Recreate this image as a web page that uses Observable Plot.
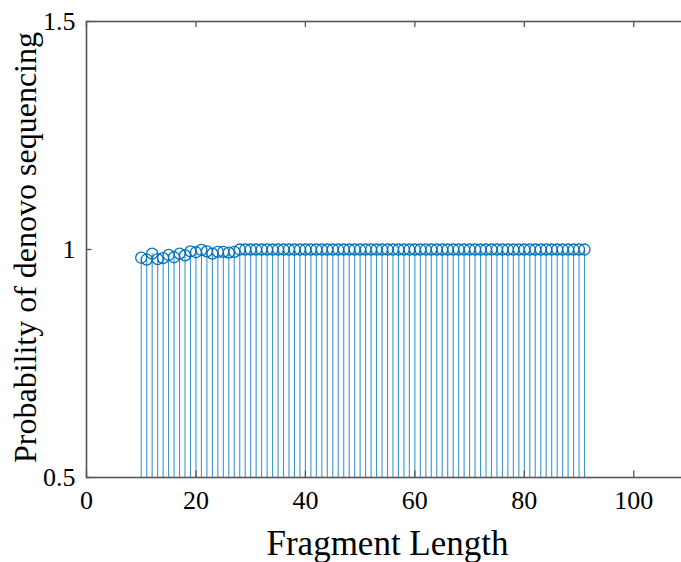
<!DOCTYPE html>
<html>
<head>
<meta charset="utf-8">
<script src="https://cdn.jsdelivr.net/npm/d3@7"></script>
<script src="https://cdn.jsdelivr.net/npm/@observablehq/plot@0.6"></script>
<style>
  html, body { margin: 0; padding: 0; background: #fff; }
  #chart svg { display: block; }
</style>
</head>
<body>
<div id="chart"></div>
<script>
// Fragment lengths (x) and probability of de novo sequencing (y)
const fragmentLength = [
  10, 11, 12, 13, 14, 15, 16, 17, 18, 19, 20, 21, 22, 23, 24, 25, 26, 27, 28, 29,
  30, 31, 32, 33, 34, 35, 36, 37, 38, 39, 40, 41, 42, 43, 44, 45, 46, 47, 48, 49,
  50, 51, 52, 53, 54, 55, 56, 57, 58, 59, 60, 61, 62, 63, 64, 65, 66, 67, 68, 69,
  70, 71, 72, 73, 74, 75, 76, 77, 78, 79, 80, 81, 82, 83, 84, 85, 86, 87, 88, 89,
  90, 91
];
const probability = [
  0.982, 0.978, 0.991, 0.979, 0.981, 0.988, 0.983, 0.991, 0.987, 0.996, 0.994, 0.999, 0.996, 0.991, 0.995, 0.995, 0.993, 0.995, 1.0, 1.0,
  1.0, 1.0, 1.0, 1.0, 1.0, 1.0, 1.0, 1.0, 1.0, 1.0, 1.0, 1.0, 1.0, 1.0, 1.0, 1.0, 1.0, 1.0, 1.0, 1.0,
  1.0, 1.0, 1.0, 1.0, 1.0, 1.0, 1.0, 1.0, 1.0, 1.0, 1.0, 1.0, 1.0, 1.0, 1.0, 1.0, 1.0, 1.0, 1.0, 1.0,
  1.0, 1.0, 1.0, 1.0, 1.0, 1.0, 1.0, 1.0, 1.0, 1.0, 1.0, 1.0, 1.0, 1.0, 1.0, 1.0, 1.0, 1.0, 1.0, 1.0,
  1.0, 1.0
];
const xTicks = [0, 20, 40, 60, 80, 100];
const yTicks = [0.5, 1, 1.5];
const yTickLabels = ["0.5", "1", "1.5"];
const xLabel = "Fragment Length";
const yLabel = "Probability of denovo sequencing";

const data = fragmentLength.map((x, i) => ({x, y: probability[i]}));

const blue = "#0072BD";
const axisColor = "#555";
const font = "'Liberation Serif', 'Times New Roman', serif";

const chart = Plot.plot({
  width: 681,
  height: 562,
  marginLeft: 86,
  marginRight: -7,
  marginTop: 21,
  marginBottom: 85,
  style: { fontFamily: font, fontSize: "26px", background: "#fff", overflow: "visible" },
  x: { domain: [0, 110] },
  y: { domain: [0.5, 1.5] },
  marks: [
    // stems
    Plot.ruleX(data, { x: "x", y1: 0.5, y2: "y", stroke: blue, strokeWidth: 1.1, strokeOpacity: 0.75 }),
    // markers
    Plot.dot(data, { x: "x", y: "y", r: 5.5, stroke: blue, fill: "none", strokeWidth: 1.3 }),
    // box
    Plot.frame({ stroke: axisColor, strokeWidth: 1.6 }),
    // inward ticks
    Plot.ruleX(xTicks, { x: d => d, y1: 0.5, y2: 0.514, stroke: axisColor, strokeWidth: 1.3 }),
    Plot.ruleX(xTicks, { x: d => d, y1: 1.487, y2: 1.5, stroke: axisColor, strokeWidth: 1.3 }),
    Plot.ruleY(yTicks, { y: d => d, x1: 0, x2: 1.0, stroke: axisColor, strokeWidth: 1.3 }),
    // tick labels
    Plot.axisX({ ticks: xTicks, tickSize: 0, tickPadding: 13, label: null, fill: "#000", fontSize: 26 }),
    Plot.axisY({ ticks: yTicks, tickFormat: (d) => yTickLabels[yTicks.indexOf(d)], tickSize: 0, tickPadding: 11, label: null, fill: "#000", fontSize: 26 }),
    // axis titles
    Plot.text([xLabel], { text: d => d, frameAnchor: "bottom", dy: 66, fontSize: 35, textAnchor: "middle", lineAnchor: "middle", fill: "#000" }),
    Plot.text([yLabel], { text: d => d, frameAnchor: "left", dx: -61, dy: -2, rotate: -90, fontSize: 32, textAnchor: "middle", lineAnchor: "middle", fill: "#000" })
  ]
});

document.getElementById("chart").appendChild(chart);
</script>
</body>
</html>
